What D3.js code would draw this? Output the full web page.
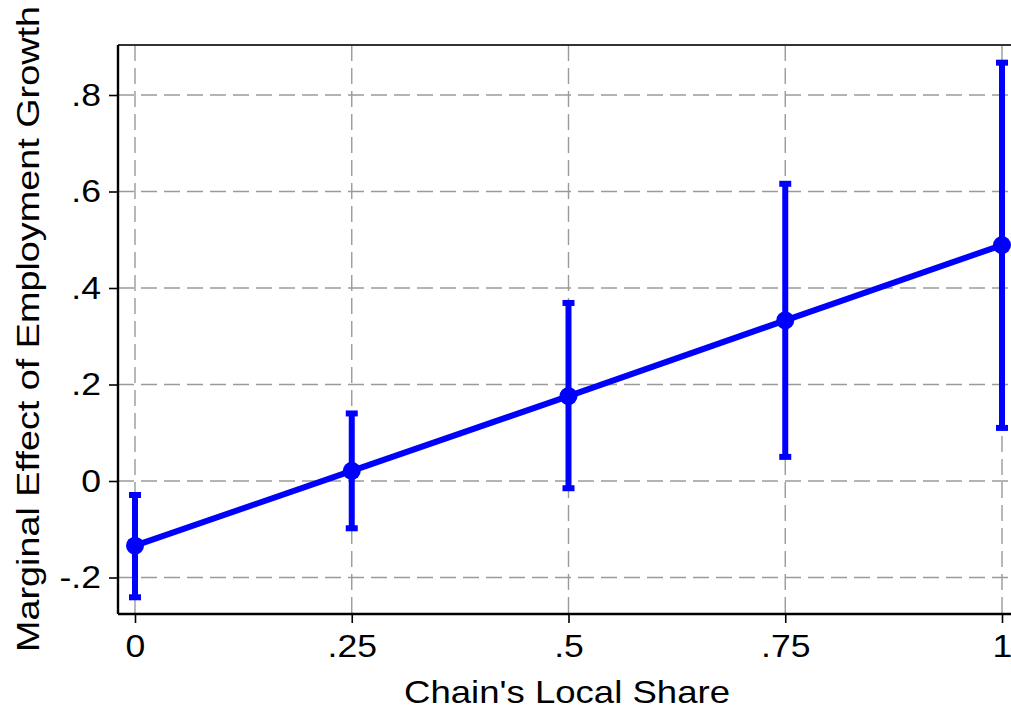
<!DOCTYPE html>
<html>
<head>
<meta charset="utf-8">
<script src="https://cdn.jsdelivr.net/npm/d3@7"></script>
<style>
  html, body { margin: 0; padding: 0; background: #fff; }
  svg { display: block; }
  text { font-family: "Liberation Sans", Arial, sans-serif; fill: #000; }
</style>
</head>
<body>
<svg id="chart" width="1011" height="711"></svg>
<script>
// Chain's local share at which the marginal effect is evaluated
const shares = [0, 0.25, 0.5, 0.75, 1];
// Point estimates and 95% confidence bounds
const effects = [-0.134, 0.021, 0.176, 0.333, 0.489];
const lower = [-0.241, -0.098, -0.015, 0.050, 0.110];
const upper = [-0.029, 0.140, 0.369, 0.616, 0.867];
// Axis ticks
const xTicks = [0, 0.25, 0.5, 0.75, 1];
const xTickLabels = ["0", ".25", ".5", ".75", "1"];
const yTicks = [-0.2, 0, 0.2, 0.4, 0.6, 0.8];
const yTickLabels = ["-.2", "0", ".2", ".4", ".6", ".8"];

const svg = d3.select("#chart");
const plot = { left: 118, top: 45, right: 1030, bottom: 614 };

const x = d3.scaleLinear().domain([0, 1]).range([135, 1002]);
const y = d3.scaleLinear().domain([0, 0.8]).range([481, 95]);

const blue = "#0000ff";
const fontSize = 31.5;
const stretch = 1.13; // wide lettering

// Grid lines
const grid = svg.append("g");
grid.selectAll(".hg").data(yTicks).join("line")
  .attr("x1", plot.left).attr("x2", plot.right)
  .attr("y1", d => y(d)).attr("y2", d => y(d))
  .attr("stroke", "#9a9a9a").attr("stroke-width", 1.4)
  .attr("stroke-dasharray", "16,7");
grid.selectAll(".vg").data(xTicks).join("line")
  .attr("x1", d => x(d)).attr("x2", d => x(d))
  .attr("y1", plot.top).attr("y2", plot.bottom)
  .attr("stroke", "#9a9a9a").attr("stroke-width", 1.4)
  .attr("stroke-dasharray", "16,7");

// Frame: top edge
svg.append("line").attr("x1", plot.left).attr("x2", plot.right)
  .attr("y1", plot.top).attr("y2", plot.top)
  .attr("stroke", "#333").attr("stroke-width", 2);

// Axes
const xAxis = svg.append("g")
  .attr("transform", `translate(0,${plot.bottom})`)
  .call(d3.axisBottom(x).tickValues(xTicks)
    .tickFormat((d, i) => xTickLabels[i]).tickSizeOuter(0).tickSize(9).tickPadding(12));
xAxis.select(".domain").attr("d", `M${plot.left},0H${plot.right}`)
  .attr("stroke", "#000").attr("stroke-width", 2.4);
xAxis.selectAll(".tick line").attr("stroke", "#000").attr("stroke-width", 1.6);
xAxis.selectAll(".tick text").attr("font-size", fontSize)
  .attr("font-family", "Liberation Sans, Arial, sans-serif").attr("fill", "#000")
  .attr("transform", `scale(${stretch},1)`);

const yAxis = svg.append("g")
  .attr("transform", `translate(${plot.left},0)`)
  .call(d3.axisLeft(y).tickValues(yTicks)
    .tickFormat((d, i) => yTickLabels[i]).tickSizeOuter(0).tickSize(9).tickPadding(8));
yAxis.select(".domain").attr("d", `M0,${plot.top}V${plot.bottom}`)
  .attr("stroke", "#000").attr("stroke-width", 2.4);
yAxis.selectAll(".tick line").attr("stroke", "#000").attr("stroke-width", 1.6);
yAxis.selectAll(".tick text").attr("font-size", fontSize)
  .attr("font-family", "Liberation Sans, Arial, sans-serif").attr("fill", "#000")
  .attr("x", -17 / stretch)
  .attr("transform", `scale(${stretch},1)`);

// Axis titles
svg.append("text")
  .attr("x", 567).attr("y", 703)
  .attr("text-anchor", "middle").attr("font-size", fontSize)
  .attr("textLength", 326).attr("lengthAdjust", "spacingAndGlyphs")
  .text("Chain's Local Share");
svg.append("text")
  .attr("transform", "translate(39,329) rotate(-90)")
  .attr("text-anchor", "middle").attr("font-size", fontSize)
  .attr("textLength", 646).attr("lengthAdjust", "spacingAndGlyphs")
  .text("Marginal Effect of Employment Growth");

// Confidence intervals with caps
const ci = svg.append("g");
ci.selectAll(".bar").data(shares).join("line")
  .attr("x1", d => x(d)).attr("x2", d => x(d))
  .attr("y1", (d, i) => y(lower[i])).attr("y2", (d, i) => y(upper[i]))
  .attr("stroke", blue).attr("stroke-width", 6);
const capW = 12;
[lower, upper].forEach(vals => {
  ci.append("g").selectAll("line").data(shares).join("line")
    .attr("x1", d => x(d) - capW / 2).attr("x2", d => x(d) + capW / 2)
    .attr("y1", (d, i) => y(vals[i])).attr("y2", (d, i) => y(vals[i]))
    .attr("stroke", blue).attr("stroke-width", 6);
});

// Point-estimate line and markers
svg.append("path")
  .datum(shares)
  .attr("d", d3.line().x(d => x(d)).y((d, i) => y(effects[i])))
  .attr("fill", "none").attr("stroke", blue).attr("stroke-width", 6);
svg.selectAll(".pt").data(shares).join("circle")
  .attr("cx", d => x(d)).attr("cy", (d, i) => y(effects[i]))
  .attr("r", 9).attr("fill", blue);
</script>
</body>
</html>
